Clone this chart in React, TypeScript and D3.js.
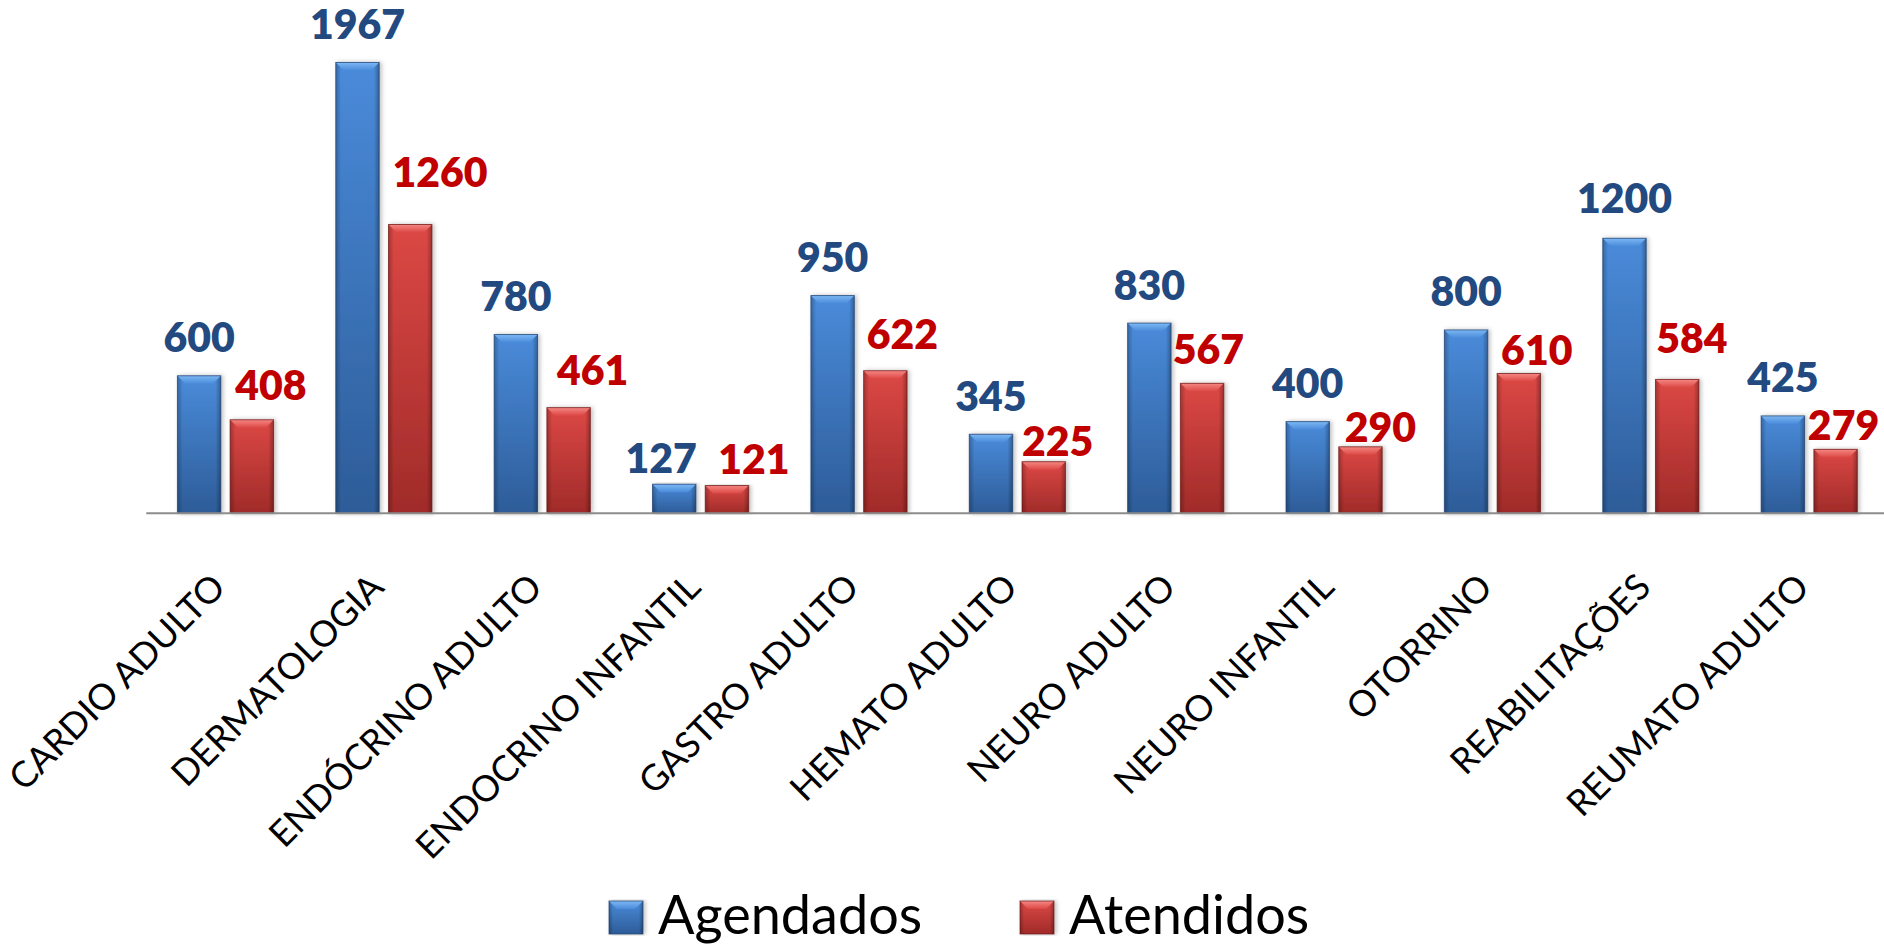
import React from "react";
import * as d3 from "d3";

const categories = [
  "CARDIO ADULTO",
  "DERMATOLOGIA",
  "ENDÓCRINO ADULTO",
  "ENDOCRINO INFANTIL",
  "GASTRO ADULTO",
  "HEMATO ADULTO",
  "NEURO ADULTO",
  "NEURO INFANTIL",
  "OTORRINO",
  "REABILITAÇÕES",
  "REUMATO ADULTO",
];
const agendados = [600, 1967, 780, 127, 950, 345, 830, 400, 800, 1200, 425];
const atendidos = [408, 1260, 461, 121, 622, 225, 567, 290, 610, 584, 279];
const seriesNames = ["Agendados", "Atendidos"];

// label nudges (layout only): [dx, gap above bar top]
const agendadosLabelNudge = [
  [0, 23.5], [0, 23.5], [0, 23.5], [-13, 10.7], [0, 23.5], [0, 23.5],
  [0, 23.5], [0, 23.5], [0, 23.5], [0, 25], [0, 23.5],
];
const atendidosLabelNudge = [
  [5, 19.3], [4, 37.7], [10, 23], [13, 11.6], [3, 21.4], [0, 6.2],
  [-7.6, 19.6], [6, 5.2], [4, 8.3], [0.7, 26.6], [-6, 9],
];

const W = 1884;
const H = 946;
const axisY = 513.3;
const plotLeft = 146.3;
const plotRight = 1888.4;
const FONT = "Lato, 'Open Sans', sans-serif";

const colors = {
  Agendados: { top: "#4A8BDA", bot: "#2D5C98", bevel: "#7DB8F4", edge: "#1E3F6E", label: "#234A80" },
  Atendidos: { top: "#DC4845", bot: "#A02B29", bevel: "#F58783", edge: "#6B1715", label: "#C00000" },
};

function Bar({ x, y, w, h, s }) {
  const c = colors[s];
  const b = Math.min(8, h / 2);
  return (
    <g filter="url(#shadow)">
      <rect x={x} y={y} width={w} height={h} fill={`url(#grad-${s})`} />
      <rect x={x} y={y} width={w} height={h} fill={`url(#side-${s})`} />
      <polygon
        points={`${x},${y} ${x + w},${y} ${x + w - b},${y + b} ${x + b},${y + b}`}
        fill={`url(#bevel-${s})`}
      />
      <rect x={x} y={y} width={w} height={h} fill="none" stroke={c.edge} strokeWidth={1} strokeOpacity={0.7} />
    </g>
  );
}

export default function App() {
  const x = d3.scaleBand().domain(categories).range([plotLeft, plotRight]).paddingInner(0).paddingOuter(0);
  const step = x.bandwidth();
  const xs = d3
    .scaleBand()
    .domain(seriesNames)
    .range([31.1, step - 31.1])
    .paddingInner(0.1765)
    .paddingOuter(0);
  const y = d3.scaleLinear().domain([0, 2000]).range([axisY, axisY - 458.4]);
  const bw = xs.bandwidth();

  const data = categories.map((cat, i) => ({ cat, i, values: [agendados[i], atendidos[i]] }));

  return (
    <svg width={W} height={H} style={{ position: "absolute", left: 0, top: 0, background: "#fff" }}>
      <defs>
        {seriesNames.map((s) => (
          <React.Fragment key={s}>
            <linearGradient id={`grad-${s}`} x1="0" y1="0" x2="0" y2="1">
              <stop offset="0" stopColor={colors[s].top} />
              <stop offset="1" stopColor={colors[s].bot} />
            </linearGradient>
            <linearGradient id={`side-${s}`} x1="0" y1="0" x2="1" y2="0">
              <stop offset="0" stopColor="#000" stopOpacity={0.25} />
              <stop offset="0.12" stopColor="#000" stopOpacity={0} />
              <stop offset="0.88" stopColor="#000" stopOpacity={0} />
              <stop offset="1" stopColor="#000" stopOpacity={0.3} />
            </linearGradient>
            <linearGradient id={`bevel-${s}`} x1="0" y1="0" x2="0" y2="1">
              <stop offset="0" stopColor={colors[s].bevel} />
              <stop offset="1" stopColor={colors[s].top} />
            </linearGradient>
          </React.Fragment>
        ))}
        <filter id="shadow" x="-20%" y="-5%" width="140%" height="110%">
          <feDropShadow dx={2} dy={0} stdDeviation={2} floodColor="#000" floodOpacity={0.25} />
        </filter>
      </defs>

      {data.map((d) => (
        <g key={d.cat}>
          {seriesNames.map((s, k) => {
            const v = d.values[k];
            const bx = x(d.cat) + xs(s);
            const by = y(v);
            return <Bar key={s} x={bx} y={by} w={bw} h={axisY - by} s={s} />;
          })}
        </g>
      ))}

      <line x1={plotLeft} x2={W} y1={axisY} y2={axisY} stroke="#8C8C8C" strokeWidth={2} />

      {data.map((d) => {
        const bx0 = x(d.cat) + xs("Agendados");
        const bx1 = x(d.cat) + xs("Atendidos");
        const n0 = agendadosLabelNudge[d.i];
        const n1 = atendidosLabelNudge[d.i];
        return (
          <g key={"l" + d.cat} fontFamily={FONT} fontWeight={800} fontSize={41}>
            <text x={bx0 + bw / 2 + n0[0]} y={y(d.values[0]) - n0[1]} textAnchor="middle" fill={colors.Agendados.label}>
              {d.values[0]}
            </text>
            <text x={bx1 + n1[0]} y={y(d.values[1]) - n1[1]} textAnchor="start" fill={colors.Atendidos.label}>
              {d.values[1]}
            </text>
          </g>
        );
      })}

      {categories.map((c) => {
        const cx = x(c) + step / 2 + 2;
        const cy = axisY + 76;
        return (
          <text
            key={"c" + c}
            transform={`translate(${cx},${cy}) rotate(-45)`}
            textAnchor="end"
            fontFamily={FONT}
            fontSize={36}
            fill="#000"
          >
            {c}
          </text>
        );
      })}

      <g fontFamily={FONT} fontSize={54} fill="#000">
        {seriesNames.map((s, k) => {
          const lx = [609, 1020][k];
          return (
            <g key={"lg" + s}>
              <Bar x={lx} y={901} w={34} h={33} s={s} />
              <text x={lx + 49} y={934}>{s}</text>
            </g>
          );
        })}
      </g>
    </svg>
  );
}
